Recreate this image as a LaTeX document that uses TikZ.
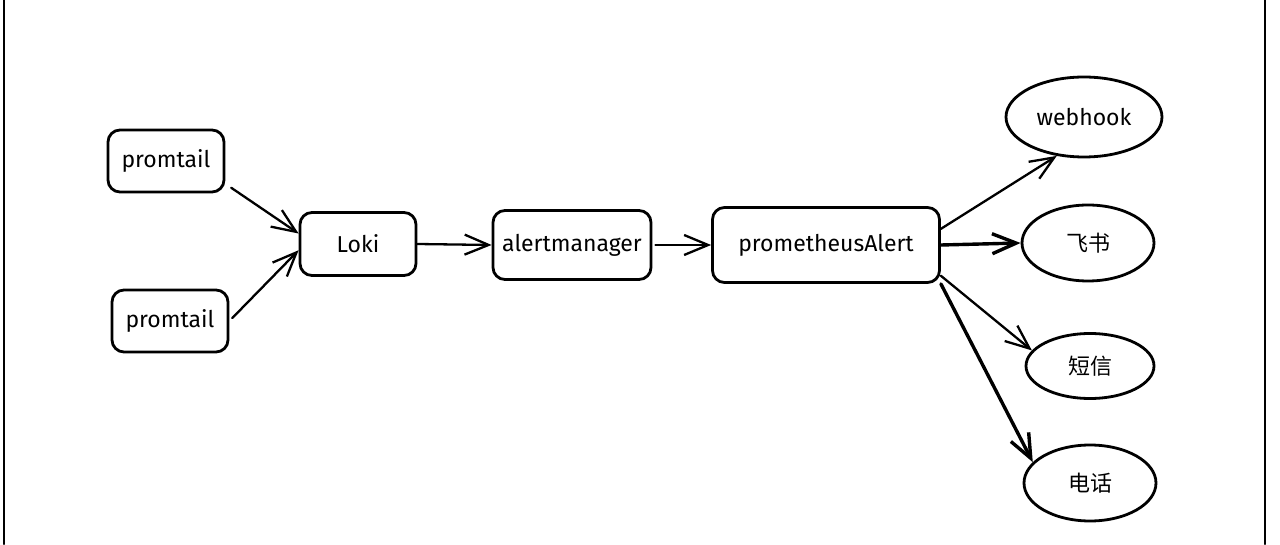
\documentclass[tikz,border=0pt]{standalone}
\usepackage{fontspec}
\setmainfont{Fira Sans}
\newfontfamily\cjk{Noto Sans CJK SC}
\usetikzlibrary{arrows.meta,shapes.geometric}

\begin{document}
\begin{tikzpicture}[x=1pt,y=1pt,>={Straight Barb[length=24pt,width=20pt]},line join=round,line cap=round,
		font=\fontsize{23}{27}\selectfont,
		box/.style={draw,line width=2.8pt,rounded corners=12pt,inner sep=0pt},
		oval/.style={draw,ellipse,line width=2.8pt,inner sep=0pt,font=\fontsize{22}{26}\selectfont\cjk},
		link/.style={->,line width=2.3pt},
		thick link/.style={->,line width=3.4pt}]
	\useasboundingbox (0,0) rectangle (1280,544);
	\draw[line width=2.8pt] (4,0)--(4,544) (1265,0)--(1265,544);
	% sources
	\node[box,minimum width=116pt,minimum height=62pt] (pt1) at (166,383) {promtail};
	\node[box,minimum width=116pt,minimum height=62pt] (pt2) at (170,223) {promtail};
	\node[box,minimum width=116pt,minimum height=63pt] (loki) at (358,300) {Loki};
	\node[box,minimum width=158pt,minimum height=69pt] (am) at (572,299) {alertmanager};
	\node[box,minimum width=227pt,minimum height=75pt] (pa) at (826,299) {prometheusAlert};
	% receivers
	\node[oval,minimum width=156pt,minimum height=80pt,font=\fontsize{23}{27}\selectfont] (wh) at (1084,427) {webhook};
	\node[oval,minimum width=132pt,minimum height=76pt] (fs) at (1088,301) {飞书};
	\node[oval,minimum width=128pt,minimum height=65pt] (dx) at (1090,178) {短信};
	\node[oval,minimum width=132pt,minimum height=76pt] (dh) at (1090,61) {电话};
	% links
	\draw[link,shorten <=7pt] (pt1.-21) -- (loki.170);
	\draw[link,shorten <=4pt] (pt2.east) -- (loki.186);
	\draw[link] (loki.east) -- (am.west);
	\draw[link,shorten <=3pt] (am.east) -- (pa.west);
	\draw[link] (pa.8) -- (wh.235);
	\draw[thick link] (pa.east) -- (fs.west);
	\draw[link] (pa.-15) -- (dx.165);
	\draw[thick link] (pa.south east) -- (dh.160);
\end{tikzpicture}
\end{document}
